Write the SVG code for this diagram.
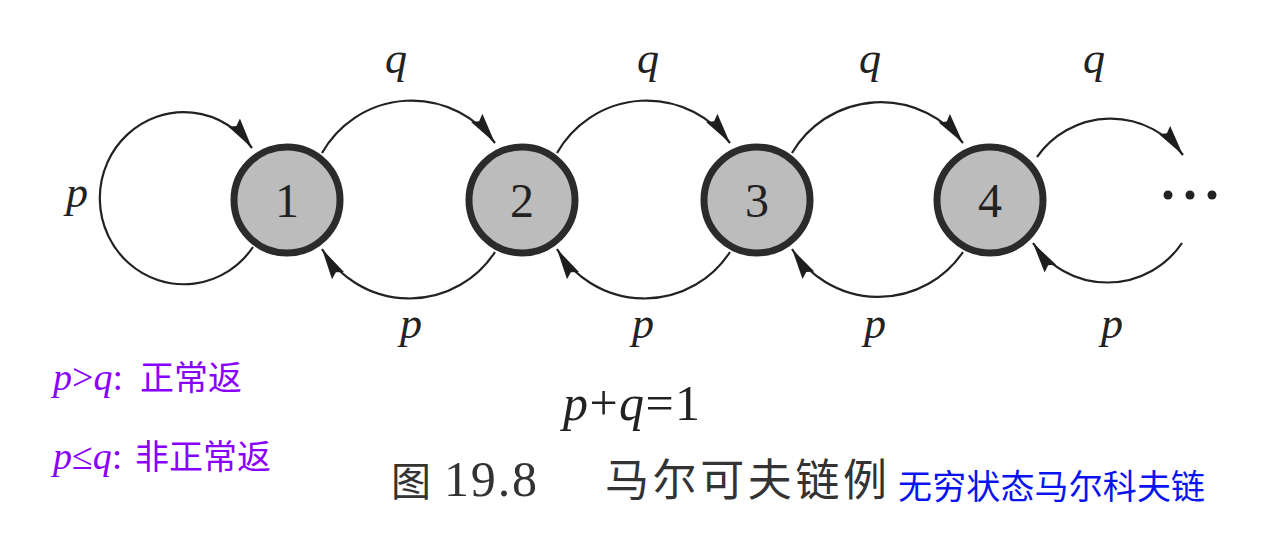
<svg xmlns="http://www.w3.org/2000/svg" width="1262" height="554" viewBox="0 0 1262 554">
<defs>
<style>
.node{fill:#bcbcbc;stroke:#2b2b2b;stroke-width:7}
.num{font-family:"Liberation Serif",serif;font-size:48px;fill:#222;text-anchor:middle}
.edge{fill:none;stroke:#222;stroke-width:2.2}
.lab{font-family:"Liberation Serif",serif;font-style:italic;font-size:44px;fill:#222;text-anchor:middle}
.dot{fill:#222}
.purple{font-family:"Noto Sans CJK SC",sans-serif;font-size:34px;fill:#8a00ff}
.pm{font-family:"Liberation Serif",serif;font-size:38px}
.cap{font-family:"Liberation Serif","Noto Sans CJK SC",serif;font-size:44px;fill:#333}
.blue{font-family:"Noto Sans CJK SC",sans-serif;font-size:34px;fill:#0a14f0}
</style>
<marker id="arr" markerUnits="userSpaceOnUse" markerWidth="32" markerHeight="16" refX="31" refY="8" orient="auto" viewBox="0 0 32 16">
<path d="M0,1 L31,8 L0,15 L4,8 z" fill="#1e1e1e"/>
</marker>
</defs>
<rect width="1262" height="554" fill="#fff"/>
<g id="connectors">
<path class="edge" d="M253 247 A84 86 0 1 1 252 148" marker-end="url(#arr)"/>
<path class="edge" d="M322 153 A103 103 0 0 1 495 143" marker-end="url(#arr)"/>
<path class="edge" d="M557 153 A103 103 0 0 1 730 143" marker-end="url(#arr)"/>
<path class="edge" d="M792 153 A103 103 0 0 1 963 143" marker-end="url(#arr)"/>
<path class="edge" d="M1037 157 A90 90 0 0 1 1183 155" marker-end="url(#arr)"/>
<path class="edge" d="M495 252 A102 102 0 0 1 322 249" marker-end="url(#arr)"/>
<path class="edge" d="M730 252 A102 102 0 0 1 557 249" marker-end="url(#arr)"/>
<path class="edge" d="M963 252 A102 102 0 0 1 792 249" marker-end="url(#arr)"/>
<path class="edge" d="M1182 243 A90 90 0 0 1 1033 243" marker-end="url(#arr)"/>
</g>
<g id="node1"><circle class="node" cx="287" cy="200" r="53"/><text class="num" x="287" y="217">1</text></g>
<g id="node2"><circle class="node" cx="522" cy="200" r="53"/><text class="num" x="522" y="217">2</text></g>
<g id="node3"><circle class="node" cx="757" cy="200" r="53"/><text class="num" x="757" y="217">3</text></g>
<g id="node4"><circle class="node" cx="990" cy="200" r="53"/><text class="num" x="990" y="217">4</text></g>
<g id="ellipsis">
<circle class="dot" cx="1168" cy="195" r="4.5"/>
<circle class="dot" cx="1190" cy="195" r="4.5"/>
<circle class="dot" cx="1212" cy="195" r="4.5"/>
</g>
<g id="edge-labels">
<text class="lab" x="77" y="207">p</text>
<text class="lab" x="396" y="73">q</text>
<text class="lab" x="648" y="73">q</text>
<text class="lab" x="870" y="73">q</text>
<text class="lab" x="1094" y="73">q</text>
<text class="lab" x="411" y="338">p</text>
<text class="lab" x="643" y="338">p</text>
<text class="lab" x="875" y="338">p</text>
<text class="lab" x="1112" y="338">p</text>
</g>
<text id="sum" x="563" y="420" font-family="Liberation Serif, serif" font-size="50" fill="#222" textLength="137" lengthAdjust="spacing"><tspan font-style="italic">p</tspan>+<tspan font-style="italic">q</tspan>=1</text>
<g id="notes">
<text class="purple" x="53" y="390"><tspan class="pm" font-style="italic">p</tspan><tspan class="pm">&gt;</tspan><tspan class="pm" font-style="italic">q</tspan><tspan class="pm">:</tspan><tspan x="140">正常返</tspan></text>
<text class="purple" x="53" y="469"><tspan class="pm" font-style="italic">p</tspan><tspan class="pm">≤</tspan><tspan class="pm" font-style="italic">q</tspan><tspan class="pm">:</tspan><tspan x="135">非正常返</tspan></text>
</g>
<g id="caption">
<text class="cap" x="391" y="496" style="font-size:40px">图</text>
<text class="cap" x="444" y="496" style="font-size:50px" textLength="93" lengthAdjust="spacing">19.8</text>
<text class="cap" x="605" y="496" textLength="282" lengthAdjust="spacing">马尔可夫链例</text>
<text class="blue" x="898" y="499" textLength="307" lengthAdjust="spacing">无穷状态马尔科夫链</text>
</g>
</svg>
